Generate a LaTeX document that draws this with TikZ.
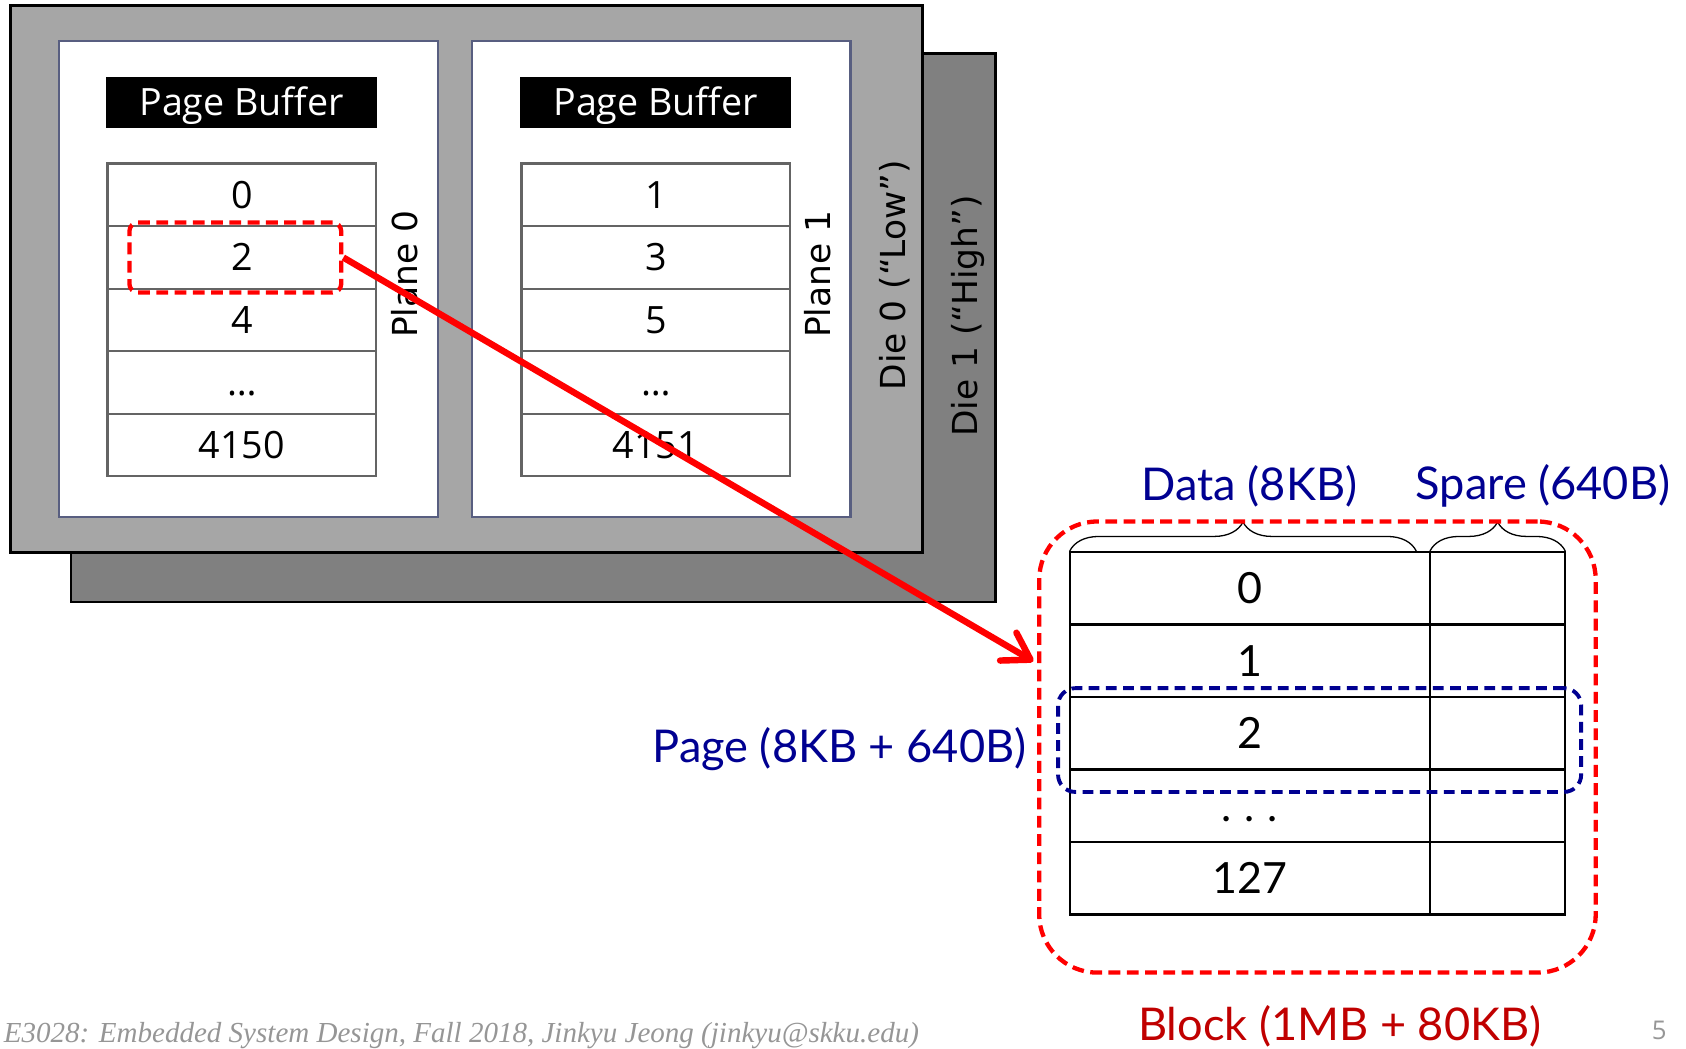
\documentclass[tikz,border=0pt]{standalone}
\usepackage{fontspec}
\setmainfont{Open Sans}
\newfontfamily\labelfont{DejaVu Sans}
\newfontfamily\gillfont{Lato}
\newfontfamily\footfont{Liberation Serif}
\usetikzlibrary{arrows.meta}
\usetikzlibrary{calc}
\usetikzlibrary{decorations.pathreplacing}

\definecolor{dielow}{RGB}{166,166,166}
\definecolor{diehigh}{RGB}{128,128,128}
\definecolor{planeedge}{RGB}{88,94,128}
\definecolor{gridgray}{RGB}{100,100,100}
\definecolor{pptred}{RGB}{255,0,0}
\definecolor{blockred}{RGB}{192,0,0}
\definecolor{pptnavy}{RGB}{0,0,145}
\definecolor{footgray}{RGB}{150,150,150}

\newcommand\widedots{.\hspace{0.3em}.\hspace{0.3em}.}

\tikzset{
  dielayer/.style={draw=black,line width=1.2pt},
  planebox/.style={draw=planeedge,fill=white,line width=1pt},
  bufbox/.style={fill=black,text=white,inner sep=0pt,minimum width=126pt,minimum height=24pt,text height=12.5pt,text depth=0.75pt,font=\fontsize{17.5}{20}\selectfont},
  cell/.style={draw=gridgray,line width=1pt,inner sep=0pt,minimum width=125pt,minimum height=29.1pt,text height=12.5pt,text depth=0pt,font=\fontsize{17.5}{20}\selectfont},
  sidelabel/.style={rotate=90,inner sep=0pt,font=\labelfont\fontsize{16}{18}\selectfont},
  blkcell/.style={draw=black,line width=1.1pt,inner sep=0pt,minimum height=33.7pt,text height=14.4pt,text depth=0pt,font=\gillfont\fontsize{20}{22}\selectfont},
  bluetext/.style={text=pptnavy,inner sep=0pt,font=\gillfont\fontsize{21}{24}\selectfont},
  reddash/.style={draw=pptred,line width=2pt,dash pattern=on 5.5pt off 3pt},
  bracket/.style={decorate,decoration={brace,amplitude=13.5pt},draw=black,line width=0.6pt},
}

\begin{document}
\begin{tikzpicture}[x=0.5pt,y=-0.5pt]
\useasboundingbox (0,0) rectangle (1568,975);
% two dies, one behind the other
\filldraw[dielayer,fill=diehigh] (66,50) rectangle (926,560);
\filldraw[dielayer,fill=dielow] (10,5) rectangle (858,514);
\filldraw[planebox] (55,38) rectangle (407,481);
\filldraw[planebox] (439,38) rectangle (791,481);
\node[bufbox] (buf0) at (224.75,95.25) {Page Buffer};
\node[bufbox] (buf1) at (609.75,95.25) {Page Buffer};
\foreach \lbl [count=\k] in {0,2,4,…,4150}
  \node[cell] (pa\k) at (225,{152+58.2*(\k-0.5)}) {\lbl};
\foreach \lbl [count=\k] in {1,3,5,…,4151}
  \node[cell] (pb\k) at (610,{152+58.2*(\k-0.5)}) {\lbl};
\node[sidelabel] (plane0) at (376,255) {Plane 0};
\node[sidelabel] (plane1) at (760,255) {Plane 1};
\node[sidelabel] (die0) at (832,256) {Die 0 (“Low”)};
\node[sidelabel] (die1) at (900,294) {Die 1 (“High”)};
\node[reddash,rounded corners=4pt,minimum width=98.5pt,minimum height=32.5pt] (sel) at (218.85,239.5) {};
% block on the right
\foreach \lbl [count=\k] in {0,1,2,\widedots,127} {
  \node[blkcell,minimum width=167.5pt] (dat\k) at (1162.5,{513.5+67.4*(\k-0.5)}) {\lbl};
  \node[blkcell,minimum width=62.8pt] (spr\k) at (1392.8,{513.5+67.4*(\k-0.5)}) {};
}
\draw[bracket] ($(dat1.north west)+(1,0)$) -- ($(dat1.north east)+(-14,0)$);
\draw[bracket] ($(spr1.north west)+(1,0)$) -- ($(spr1.north east)+(-1,0)$);
\node[reddash,draw=pptnavy,line width=1.8pt,dash pattern=on 5pt off 3pt,rounded corners=8pt,minimum width=243.25pt,minimum height=48.25pt] (page) at (1227.25,688.25) {};
\node[reddash,rounded corners=27pt,minimum width=258.75pt,minimum height=209.75pt] (block) at (1225.25,694.75) {};
\coordinate (tip) at (961,615);
\draw[pptred,line width=3pt,-{Straight Barb[length=12pt,width=15pt,round]}] (sel.east) -- (tip);
\node[bluetext] (datalbl) at (1162,452) {Data (8KB)};
\node[bluetext] (sparelbl) at (1435,452) {Spare (640B)};
\node[bluetext,anchor=east] (pagelbl) at (955,697) {Page (8KB + 640B)};
\node[bluetext,text=blockred,font=\gillfont\fontsize{21}{24}\selectfont] (blocklbl) at (1246,954) {Block (1MB + 80KB)};
\node[text=footgray,font=\fontsize{12}{14}\selectfont] (pagenum) at (1543,958) {5};
\node[text=footgray,anchor=east,inner sep=0pt,font=\footfont\itshape\fontsize{13.5}{16}\selectfont] (footer) at (855,963) {E3028: Embedded System Design, Fall 2018, Jinkyu Jeong (jinkyu@skku.edu)};
\end{tikzpicture}
\end{document}
